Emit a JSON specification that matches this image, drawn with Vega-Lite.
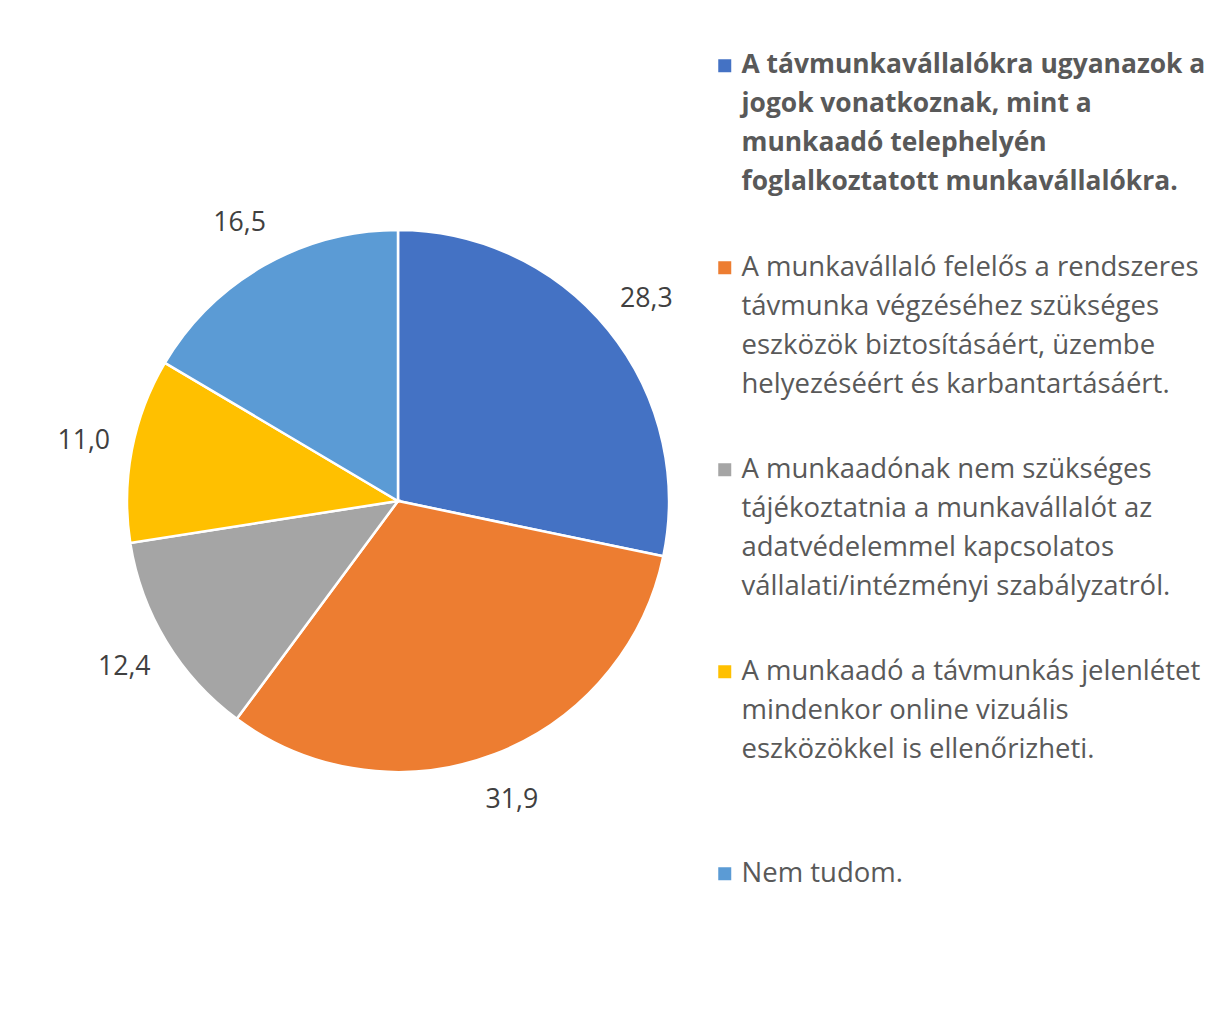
{
  "$schema": "https://vega.github.io/schema/vega-lite/v6.json",
  "width": 782,
  "height": 988,
  "padding": {"left": 7, "top": 7, "right": 428, "bottom": 30},
  "autosize": {"type": "none"},
  "background": "white",
  "config": {
    "view": {"stroke": null},
    "locale": {"number": {"decimal": ",", "thousands": " ", "grouping": [3], "currency": ["", " Ft"]}}
  },
  "data": {
    "values": [
      {"order": 1, "category": "A távmunkavállalókra ugyanazok a|jogok vonatkoznak, mint a|munkaadó telephelyén|foglalkoztatott munkavállalókra.", "value": 28.3},
      {"order": 2, "category": "A munkavállaló felelős a rendszeres|távmunka végzéséhez szükséges|eszközök biztosításáért, üzembe|helyezéséért és karbantartásáért.", "value": 31.9},
      {"order": 3, "category": "A munkaadónak nem szükséges|tájékoztatnia a munkavállalót az|adatvédelemmel kapcsolatos|vállalati/intézményi szabályzatról.", "value": 12.4},
      {"order": 4, "category": "A munkaadó a távmunkás jelenlétet|mindenkor online vizuális|eszközökkel is ellenőrizheti.", "value": 11.0},
      {"order": 5, "category": "Nem tudom.", "value": 16.5}
    ]
  },
  "encoding": {
    "theta": {"field": "value", "type": "quantitative", "stack": true},
    "order": {"field": "order", "type": "quantitative"}
  },
  "layer": [
    {
      "mark": {"type": "arc", "outerRadius": 271, "stroke": "white", "strokeWidth": 2.5},
      "encoding": {
        "color": {
          "field": "category",
          "type": "nominal",
          "sort": null,
          "scale": {"range": ["#4472C4", "#ED7D31", "#A5A5A5", "#FFC000", "#5B9BD5"]},
          "legend": {
            "orient": "none",
            "legendX": 704,
            "legendY": 45,
            "title": null,
            "padding": 0,
            "symbolType": "square",
            "symbolSize": 169,
            "symbolStrokeWidth": 0,
            "symbolStrokeColor": "transparent",
            "labelFont": "Open Sans",
            "labelFontSize": 27.5,
            "labelColor": "#595959",
            "labelLimit": 700,
            "labelOffset": 3,
            "labelBaseline": "top",
            "gridAlign": "all",
            "rowPadding": 56,
            "labelExpr": "split(datum.label, '|')",
            "encode": {
              "labels": {
                "update": {
                  "fontWeight": {"signal": "datum.index === 0 ? 'bold' : 'normal'"},
                  "fontSize": {"signal": "datum.index === 0 ? 26.4 : 27.5"},
                  "lineHeight": {"value": 39},
                  "dy": {"value": -14}
                }
              }
            }
          }
        }
      }
    },
    {
      "mark": {"type": "text", "radius": 320, "font": "Open Sans", "fontSize": 26.7, "align": "center", "baseline": "middle"},
      "encoding": {
        "text": {"field": "value", "type": "quantitative", "format": ".1f"},
        "color": {"value": "#404040"}
      }
    }
  ]
}
